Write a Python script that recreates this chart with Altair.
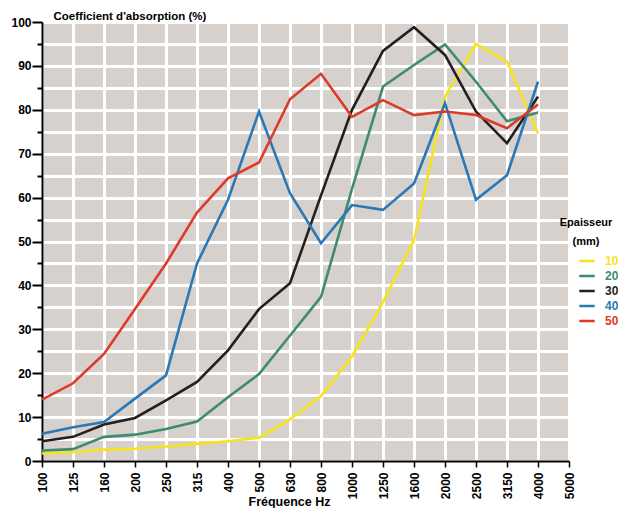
import altair as alt
import pandas as pd

freqs = ["100", "125", "160", "200", "250", "315", "400", "500", "630", "800",
         "1000", "1250", "1600", "2000", "2500", "3150", "4000", "5000"]
data_freqs = freqs[:17]

series = ["10", "20", "30", "40", "50"]
colors = ["#f7e31c", "#3e8b72", "#231f20", "#2a78b6", "#de3a2b"]

e10 = [1.7, 2.0, 2.6, 2.8, 3.3, 3.9, 4.5, 5.3, 9.5, 14.8, 23.8, 36.2, 50.3, 83.0, 95.0, 91.0, 74.6]
e20 = [2.4, 2.7, 5.5, 6.0, 7.3, 9.0, 14.5, 19.8, 28.6, 37.4, 62.0, 85.3, 90.2, 94.9, 86.4, 77.4, 79.4]
e30 = [4.5, 5.5, 8.3, 9.8, 13.8, 18.0, 25.2, 34.6, 40.5, 60.5, 80.0, 93.4, 98.8, 92.5, 79.6, 72.4, 83.0]
e40 = [6.2, 7.7, 8.9, 14.2, 19.5, 45.0, 59.5, 79.6, 61.0, 49.6, 58.3, 57.2, 63.2, 81.5, 59.5, 65.1, 86.4]
e50 = [14.0, 17.7, 24.4, 34.6, 45.0, 56.6, 64.4, 68.0, 82.4, 88.2, 78.4, 82.2, 78.8, 79.6, 78.8, 75.8, 81.2]

values = [e10, e20, e30, e40, e50]
rows = []
for s, vals in zip(series, values):
    for i, (f, v) in enumerate(zip(data_freqs, vals)):
        rows.append({"freq": f, "idx": i, "ep": s, "val": v})
df = pd.DataFrame(rows)

FONT = "Liberation Sans"

label_color_expr = " : ".join(
    [f"datum.label === '{s}' ? '{c}'" for s, c in zip(series, colors)]
) + " : 'black'"

x_axis = alt.Axis(
    labelAngle=270, labelAlign="right", labelBaseline="middle",
    labelFont=FONT, labelFontWeight="bold", labelFontSize=12, labelColor="black",
    labelPadding=5, tickSize=6, tickWidth=1.5, tickColor="black",
    domainColor="black", domainWidth=2,
    grid=True, gridColor="white", gridWidth=3,
    title="Fréquence Hz", titleFont=FONT, titleFontSize=12.5, titleFontWeight="bold",
    titleColor="black", titleX=247, titleY=34, titleAlign="center", titleBaseline="top",
)

y_axis = alt.Axis(
    values=list(range(0, 101, 5)),
    labelExpr="datum.value % 10 === 0 ? datum.label : ''",
    labelFont=FONT, labelFontWeight="bold", labelFontSize=12, labelColor="black",
    labelPadding=1,
    tickSize={"condition": {"test": "datum.value % 10 === 0", "value": 10}, "value": 5},
    tickWidth=2, tickColor="black",
    domainColor="black", domainWidth=2,
    grid=True, gridColor="white", gridWidth=3,
    title="Coefficient d'absorption (%)", titleFont=FONT, titleFontSize=11.5,
    titleFontWeight="bold", titleColor="black", titleAngle=0, titleAlign="left",
    titleBaseline="bottom", titleX=11, titleY=-1,
)

legend = alt.Legend(
    orient="none", legendX=512, legendY=195,
    title=["Epaisseur", "(mm)"], titleFont=FONT, titleFontSize=11, titleFontWeight="bold",
    titleColor="black", titleAlign="center", titleAnchor="middle", titleLineHeight=19,
    titlePadding=5,
    labelFont=FONT, labelFontSize=12, labelFontWeight="bold",
    labelColor={"expr": label_color_expr}, labelOffset=9,
    symbolType="stroke", symbolStrokeWidth=2.5, symbolSize=240, symbolOffset=24,
    rowPadding=0,
)

chart = alt.Chart(df).mark_line(strokeWidth=2.6).encode(
    x=alt.X("freq:N", sort=freqs,
            scale=alt.Scale(domain=freqs, type="point", padding=0), axis=x_axis),
    y=alt.Y("val:Q", scale=alt.Scale(domain=[0, 100], nice=False), axis=y_axis),
    color=alt.Color("ep:N", scale=alt.Scale(domain=series, range=colors), legend=legend),
    order=alt.Order("idx:Q"),
).properties(
    width=527, height=439,
    background="white",
    autosize=alt.AutoSizeParams(type="none"),
    padding={"left": 34, "top": 14, "right": 49, "bottom": 47},
).configure_view(
    fill="#d6d1cc", stroke=None,
)

chart.save("out.html", embed_options={"renderer": "svg", "actions": False})
